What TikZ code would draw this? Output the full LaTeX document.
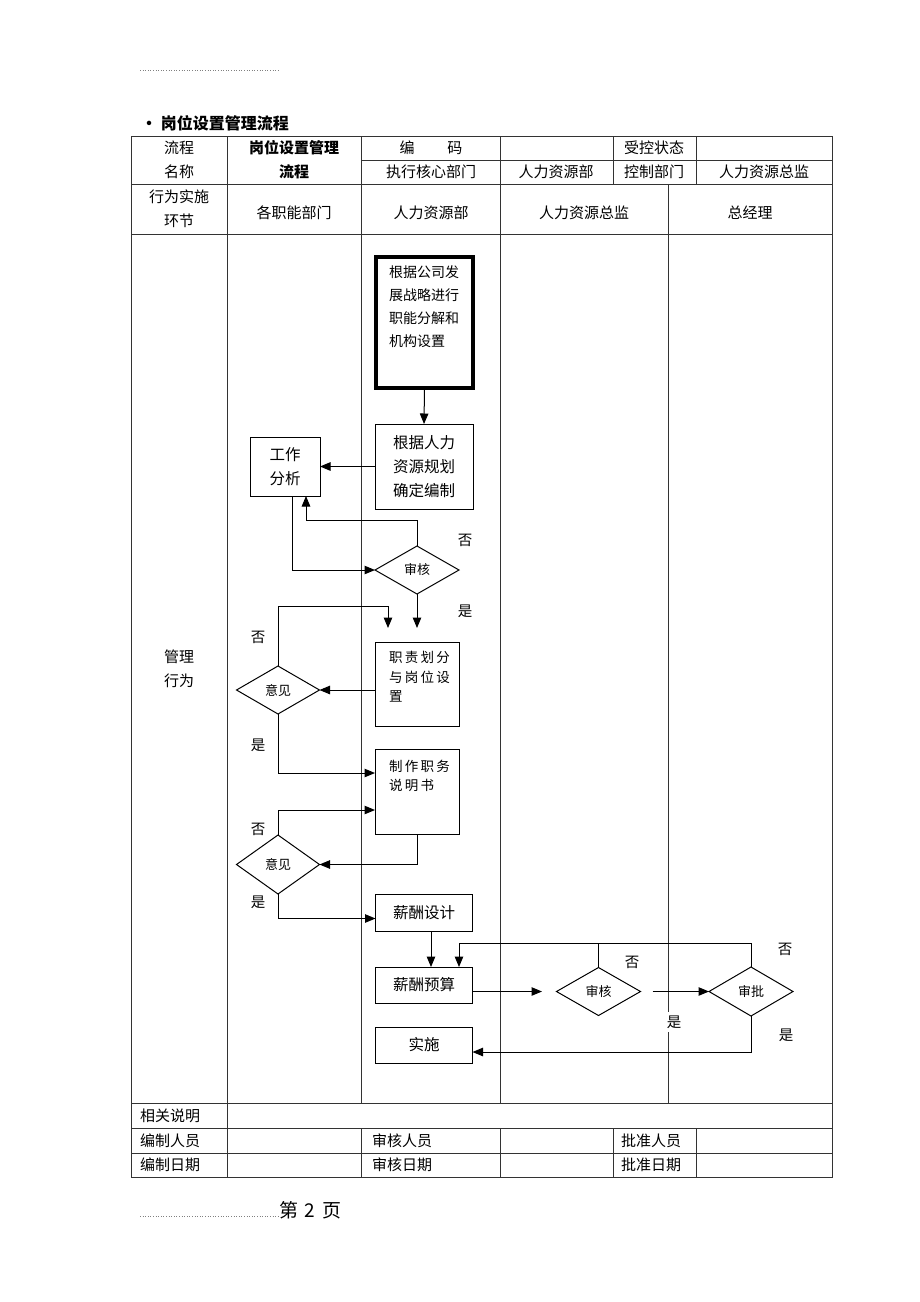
\documentclass[tikz,border=0pt]{standalone}
\usepackage{fontspec}
\setmainfont{Noto Sans CJK SC}
\usetikzlibrary{arrows.meta,shapes.geometric}
\begin{document}
\begin{tikzpicture}[x=1pt,y=-1pt,
  tl/.style={line width=0.9pt, draw=black!80},
  t/.style={font=\fontsize{15}{24}\selectfont, inner sep=0pt},
  tb/.style={font=\fontsize{15}{24}\selectfont\bfseries, inner sep=0pt},
  box/.style={draw, line width=1pt, inner sep=0pt, outer sep=0pt},
  dia/.style={draw, diamond, line width=1pt, inner sep=0pt, outer sep=0pt, font=\fontsize{13}{13}\selectfont},
  arr/.style={line width=1pt, -{Triangle[length=10.5pt,width=8.5pt]}},
  ln/.style={line width=1pt},
  lab/.style={font=\fontsize{14.5}{14.5}\selectfont, inner sep=1pt}
]
\useasboundingbox[fill=white] (0,0) rectangle (920,1302);
% dotted rules
\draw[black!50, line width=0.6pt, dotted] (140,70) -- (278,70);
\draw[black!50, line width=0.6pt, dotted] (140,1216) -- (278,1216);
\node[anchor=west, font=\fontsize{19}{19}\selectfont, inner sep=0pt] (page) at (279,1210) {第\hspace{0.35em}2\hspace{0.35em}页};
% title
\node[anchor=west, font=\fontsize{16}{16}\selectfont\bfseries, inner sep=0pt] (title) at (141,123) {• 岗位设置管理流程};
% table lines
\draw[tl] (131,136) rectangle (832,1177);
\draw[tl] (361,160) -- (832,160);
\draw[tl] (131,184) -- (832,184);
\draw[tl] (131,234) -- (832,234);
\draw[tl] (131,1103) -- (832,1103);
\draw[tl] (131,1128) -- (832,1128);
\draw[tl] (131,1153) -- (832,1153);
\draw[tl] (227,136) -- (227,1177);
\draw[tl] (361,136) -- (361,1103);
\draw[tl] (361,1128) -- (361,1177);
\draw[tl] (500,136) -- (500,1103);
\draw[tl] (500,1128) -- (500,1177);
\draw[tl] (613,136) -- (613,184);
\draw[tl] (613,1128) -- (613,1177);
\draw[tl] (696,136) -- (696,184);
\draw[tl] (696,1128) -- (696,1177);
\draw[tl] (668,184) -- (668,1103);
% header texts
\node[t] (h1) at (179,148) {流程};
\node[t] (h2) at (179,172) {名称};
\node[tb] (h3) at (294,148) {岗位设置管理};
\node[tb] (h4) at (294,172) {流程};
\node[t] (h5) at (431,148) {编\hspace{2.2em}码};
\node[t] (h6) at (654,148) {受控状态};
\node[t] (h7) at (431,172) {执行核心部门};
\node[t] (h8) at (556,172) {人力资源部};
\node[t] (h9) at (654,172) {控制部门};
\node[t] (h10) at (764,172) {人力资源总监};
\node[t] (h11) at (179,197) {行为实施};
\node[t] (h12) at (179,221) {环节};
\node[t] (h13) at (294,213) {各职能部门};
\node[t] (h14) at (431,213) {人力资源部};
\node[t] (h15) at (584,213) {人力资源总监};
\node[t] (h16) at (750,213) {总经理};
\node[t] (h17) at (179,657) {管理};
\node[t] (h18) at (179,681) {行为};
% footer rows
\node[t, anchor=west] (f1) at (140,1115.5) {相关说明};
\node[t, anchor=west] (f2) at (140,1140.5) {编制人员};
\node[t, anchor=west] (f3) at (372,1140.5) {审核人员};
\node[t, anchor=west] (f4) at (621,1140.5) {批准人员};
\node[t, anchor=west] (f5) at (140,1165) {编制日期};
\node[t, anchor=west] (f6) at (372,1165) {审核日期};
\node[t, anchor=west] (f7) at (621,1165) {批准日期};
% flow nodes
\node[box, line width=3.5pt, minimum width=97pt, minimum height=131pt] (strat) at (424.5,322.5) {};
\node[anchor=north west, align=left, font=\fontsize{14}{23}\selectfont, inner sep=0pt] (strattxt) at (389,265) {根据公司发\\展战略进行\\职能分解和\\机构设置};
\node[box, minimum width=98pt, minimum height=85pt, align=center, font=\fontsize{15.5}{24}\selectfont] (plan) at (424,466.5) {根据人力\\资源规划\\确定编制};
\node[box, minimum width=70pt, minimum height=59pt, align=center, font=\fontsize{15.5}{24}\selectfont] (work) at (285,466.5) {工作\\分析};
\node[dia, minimum width=84pt, minimum height=48pt] (chk1) at (417,570) {审核};
\node[box, minimum width=84pt, minimum height=84pt] (duty) at (417,684) {};
\node[anchor=north west, align=left, font=\fontsize{13.5}{19.5}\selectfont, inner sep=0pt] (dutytxt) at (389,651) {职\,责\,划\,分\\与\,岗\,位\,设\\置};
\node[dia, minimum width=83pt, minimum height=48pt] (op1) at (278,690) {意见};
\node[box, minimum width=84pt, minimum height=85pt] (make) at (417,791.5) {};
\node[anchor=north west, align=left, font=\fontsize{13.5}{19}\selectfont, inner sep=0pt] (maketxt) at (389,760) {制\,作\,职\,务\\说\,明\,书};
\node[dia, minimum width=83pt, minimum height=59pt] (op2) at (278,864.5) {意见};
\node[box, minimum width=97pt, minimum height=37pt, font=\fontsize{15.5}{15.5}\selectfont] (sd) at (424,912.5) {薪酬设计};
\node[box, minimum width=97pt, minimum height=36pt, font=\fontsize{15.5}{15.5}\selectfont] (bud) at (424,985) {薪酬预算};
\node[box, minimum width=97pt, minimum height=36pt, font=\fontsize{15.5}{15.5}\selectfont] (impl) at (424,1045) {实施};
\node[dia, minimum width=84pt, minimum height=48pt] (chk2) at (598.5,991.5) {审核};
\node[dia, minimum width=84pt, minimum height=49pt] (apr) at (751,991.5) {审批};
\coordinate (a1) at (417,628);
\coordinate (a2) at (388,628);
\coordinate (a3) at (542,991.5);
% connectors
\draw[arr] (strat.south) -- (plan.north);
\draw[arr] (plan.west) -- (work.east);
\draw[arr] (chk1.north) -- ++(0,-26) -| ([xshift=21pt]work.south);
\draw[arr] ([xshift=7pt]work.south) |- (chk1.west);
\draw[arr] (chk1.south) -- (a1);
\draw[arr] (duty.west |- op1.east) -- (op1.east);
\draw[arr] (op1.north) |- (388,606) -- (a2);
\draw[arr] (op1.south) |- ([yshift=18.5pt]make.west);
\draw[arr] (make.south) |- (op2.east);
\draw[arr] (op2.north) |- ([yshift=-18.5pt]make.west);
\draw[arr] (op2.south) |- ([yshift=-6pt]sd.west);
\draw[arr] ([xshift=7pt]sd.south) -- ([xshift=7pt]bud.north);
\draw[arr] (bud.east |- chk2.west) -- (a3);
\draw[arr] ([xshift=12pt]chk2.east) -- (apr.west);
\draw[ln] (chk2.north) -- ++(0,-24);
\draw[arr] (apr.north) -- ++(0,-24) -| ([xshift=35pt]bud.north);
\draw[arr] (apr.south) |- ([yshift=-7pt]impl.east);
% labels
\node[lab] (l1) at (465,540) {否};
\node[lab] (l2) at (465,611) {是};
\node[lab] (l3) at (258,637) {否};
\node[lab] (l4) at (258,745) {是};
\node[lab] (l5) at (258,829) {否};
\node[lab] (l6) at (258,902) {是};
\node[lab, fill=white] (l7) at (632,962) {否};
\node[lab, fill=white, inner sep=4pt] (l8) at (674,1022) {是};
\node[lab] (l9) at (785,949) {否};
\node[lab] (l10) at (786,1035) {是};
\end{tikzpicture}
\end{document}
